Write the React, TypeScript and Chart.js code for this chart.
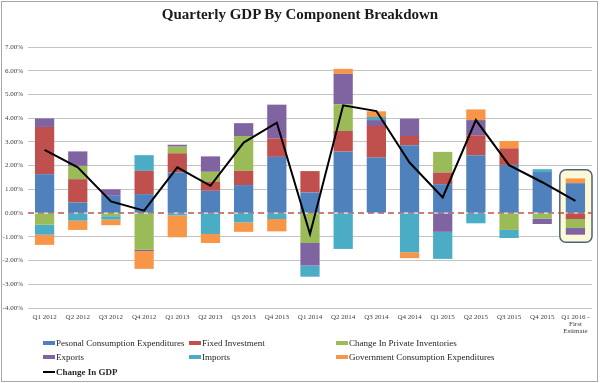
import React, { useEffect, useRef } from "react";
import { Chart, registerables } from "chart.js";

Chart.register(...registerables);

const titleText = "Quarterly GDP By Component Breakdown";

const categories: (string | string[])[] = [
  "Q1 2012", "Q2 2012", "Q3 2012", "Q4 2012",
  "Q1 2013", "Q2 2013", "Q3 2013", "Q4 2013",
  "Q1 2014", "Q2 2014", "Q3 2014", "Q4 2014",
  "Q1 2015", "Q2 2015", "Q3 2015", "Q4 2015",
  ["Q1 2016 -", "First", "Estimate"],
];

const seriesNames = [
  "Pesonal Consumption Expenditures",
  "Fixed Investment",
  "Change In Private Inventories",
  "Exports",
  "Imports",
  "Government Consumption Expenditures",
];
const lineName = "Change In GDP";

const seriesColors = ["#4F81BD", "#C0504D", "#9BBB59", "#8064A2", "#4BACC6", "#F79646"];

const pce = [1.64, 0.45, 0.73, 0.80, 1.71, 0.94, 1.18, 2.37, 0.87, 2.59, 2.34, 2.86, 1.22, 2.44, 2.03, 1.73, 1.26];
const fixedInvestment = [1.99, 0.98, 0, 0.98, 0.81, 0.39, 0.60, 0.78, 0.90, 0.87, 1.33, 0.39, 0.49, 0.84, 0.70, 0, -0.25];
const inventories = [-0.49, 0.56, -0.13, -1.55, 0.28, 0.41, 1.47, 0, -1.26, 1.12, 0, 0, 0.87, 0, -0.71, -0.23, -0.38];
const exportsData = [0.36, 0.61, 0.27, -0.05, 0.08, 0.65, 0.54, 1.42, -0.95, 1.29, 0.25, 0.73, -0.79, 0.64, 0, -0.23, -0.28];
const importsData = [-0.42, -0.32, -0.14, 0.66, -0.10, -0.88, -0.39, -0.25, -0.47, -1.51, 0.13, -1.65, -1.14, -0.43, -0.34, 0.12, 0];
const government = [-0.43, -0.39, -0.24, -0.75, -0.92, -0.38, -0.40, -0.52, 0, 0.21, 0.24, -0.25, 0, 0.45, 0.31, 0, 0.20];
const gdpChange = [2.66, 1.93, 0.49, 0.10, 1.93, 1.15, 2.97, 3.81, -0.88, 4.54, 4.30, 2.13, 0.66, 3.92, 2.02, 1.30, 0.52];

const yMin = -4;
const yMax = 7;

const seriesValues = [pce, fixedInvestment, inventories, exportsData, importsData, government];

const FONT = "'Liberation Serif', 'DejaVu Serif', serif";

const overlayPlugin = {
  id: "overlay",
  beforeDatasetsDraw(chart: any) {
    const { ctx, chartArea, scales } = chart;
    const x = scales.x;
    const y = scales.y;
    // highlight box around latest estimate
    const i = categories.length - 1;
    const step = x.getPixelForValue(1) - x.getPixelForValue(0);
    const cx = x.getPixelForValue(i);
    const left = cx - step * 0.47;
    const right = cx + step * 0.5;
    const top = y.getPixelForValue(1.83);
    const bottom = y.getPixelForValue(-1.23);
    ctx.save();
    ctx.beginPath();
    ctx.roundRect(left, top, right - left, bottom - top, 6);
    ctx.fillStyle = "#FCF8D8";
    ctx.fill();
    ctx.lineWidth = 1.5;
    ctx.strokeStyle = "#4A6577";
    ctx.stroke();
    ctx.restore();
    // dashed zero line
    const y0 = y.getPixelForValue(0);
    ctx.save();
    ctx.beginPath();
    ctx.setLineDash([6, 4]);
    ctx.lineWidth = 1.5;
    ctx.strokeStyle = "#C0504D";
    ctx.moveTo(chartArea.left, y0);
    ctx.lineTo(chartArea.right, y0);
    ctx.stroke();
    ctx.restore();
  },
};

export default function App() {
  const canvasRef = useRef<HTMLCanvasElement | null>(null);

  useEffect(() => {
    if (!canvasRef.current) return;
    const barDatasets = seriesNames.map((name, k) => ({
      type: "bar" as const,
      label: name,
      data: seriesValues[k],
      backgroundColor: seriesColors[k],
      borderWidth: 0,
      stack: "components",
      order: 1,
      barPercentage: 0.58,
      categoryPercentage: 1,
    }));
    const chart = new Chart(canvasRef.current, {
      type: "bar",
      data: {
        labels: categories,
        datasets: [
          ...barDatasets,
          {
            type: "line" as const,
            label: lineName,
            data: gdpChange,
            borderColor: "#000000",
            borderWidth: 2,
            pointRadius: 0,
            tension: 0,
            stack: "gdp",
            order: 0,
          } as any,
        ],
      },
      options: {
        animation: false,
        responsive: false,
        maintainAspectRatio: false,
        layout: { padding: { top: 47, left: 0, right: 8, bottom: 35 } },
        plugins: {
          legend: { display: false },
          title: { display: false },
          tooltip: { enabled: false },
        },
        scales: {
          x: {
            stacked: true,
            grid: { display: false, drawTicks: false },
            border: { display: false },
            ticks: {
              font: { family: FONT, size: 7, lineHeight: 1.05 },
              color: "#404040",
              maxRotation: 0,
              minRotation: 0,
              autoSkip: false,
              padding: 5,
            },
            afterFit(s: any) {
              s.height = 40;
            },
          },
          y: {
            stacked: true,
            min: yMin,
            max: yMax,
            ticks: {
              stepSize: 1,
              callback: (v: any) => Number(v).toFixed(2) + "%",
              font: { family: FONT, size: 7 },
              color: "#404040",
              padding: 5,
            },
            grid: {
              color: (c: any) => (c.tick && c.tick.value === 0 ? "rgba(0,0,0,0)" : "#C4C4C4"),
              lineWidth: 1,
              drawTicks: false,
            },
            border: { display: false },
            afterFit(s: any) {
              s.width = 28;
            },
          },
        },
      },
      plugins: [overlayPlugin],
    } as any);
    return () => chart.destroy();
  }, []);

  const legendItems = [
    ...seriesNames.map((n, k) => ({ name: n, color: seriesColors[k], bold: false, line: false })),
    { name: lineName, color: "#000000", bold: true, line: true },
  ];
  const colX = [43, 189, 336];
  const rowY = [343, 357, 371.5];

  return (
    <div style={{ position: "fixed", left: 0, top: 0, width: 600, height: 383, background: "#fff", overflow: "hidden" }}>
      <div
        style={{
          position: "absolute",
          left: 1,
          top: 1,
          width: 595,
          height: 379,
          border: "1px solid #A8A8A8",
          pointerEvents: "none",
        }}
      />
      <canvas ref={canvasRef} width={600} height={383} style={{ position: "absolute", left: 0, top: 0 }} />
      <div
        style={{
          position: "absolute",
          left: 0,
          top: 4,
          width: 600,
          textAlign: "center",
          fontFamily: FONT,
          fontWeight: "bold",
          fontSize: 15,
          lineHeight: "20px",
          color: "#1a1a1a",
        }}
      >
        {titleText}
      </div>
      {legendItems.map((it, idx) => {
        const col = idx === 6 ? 0 : idx % 3;
        const row = Math.floor(idx / 3);
        return (
          <div
            key={it.name}
            style={{
              position: "absolute",
              left: colX[col],
              top: rowY[row] - 6,
              height: 12,
              display: "flex",
              alignItems: "center",
              fontFamily: FONT,
              fontSize: 9,
              fontWeight: it.bold ? "bold" : "normal",
              color: "#262626",
              whiteSpace: "nowrap",
            }}
          >
            <span
              style={{
                display: "inline-block",
                width: 12,
                height: it.line ? 2 : 4,
                background: it.color,
                marginRight: 1,
              }}
            />
            {it.name}
          </div>
        );
      })}
    </div>
  );
}
